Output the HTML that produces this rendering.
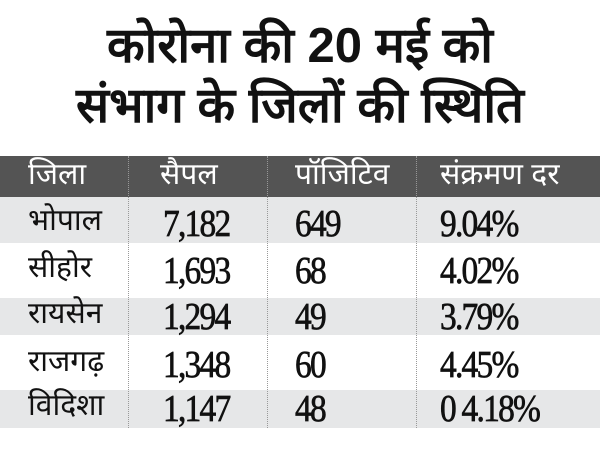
<!DOCTYPE html>
<html><head><meta charset="utf-8"><style>
body{margin:0;width:600px;height:450px;background:#fff;position:relative;overflow:hidden;font-family:"Liberation Sans",sans-serif}
.t{position:absolute;left:0;width:600px;text-align:center;font-weight:bold;font-size:49px;color:#111;line-height:60px}
.band{position:absolute;left:0;width:600px}
.v{position:absolute;top:156px;height:272px;border-left:1px dotted #999}
.c{position:absolute;white-space:nowrap;line-height:1}
.h{color:#fff;font-size:30px}
.n{font-family:"Liberation Serif",serif;font-size:38px;color:#111;letter-spacing:-2px;transform:scaleX(0.88);transform-origin:left;-webkit-text-stroke:0.7px #111}
.d{font-size:30px;color:#111}
</style></head><body>
<div class="t" style="top:16px">कोरोना की 20 मई को</div>
<div class="t" style="top:76px">संभाग के जिलों की स्थिति</div>
<div class="band" style="top:156px;height:41px;background:#545454"></div>
<div class="band" style="top:197px;height:46px;background:#e6e7e8"></div>
<div class="band" style="top:298px;height:37px;background:#e6e7e8"></div>
<div class="band" style="top:390px;height:38px;background:#e6e7e8"></div>
<div class="v" style="left:128px"></div>
<div class="v" style="left:267px"></div>
<div class="v" style="left:416px"></div>

<div class="c h" style="left:28px;top:160px">जिला</div>
<div class="c h" style="left:160px;top:160px">सैपल</div>
<div class="c h" style="left:295px;top:160px">पॉजिटिव</div>
<div class="c h" style="left:440px;top:160px">संक्रमण दर</div>

<div class="c d" style="left:28px;top:206px">भोपाल</div>
<div class="c n" style="left:163px;top:205px">7,182</div>
<div class="c n" style="left:295px;top:205px">649</div>
<div class="c n" style="left:440px;top:205px">9.04%</div>

<div class="c d" style="left:28px;top:253px">सीहोर</div>
<div class="c n" style="left:163px;top:252px">1,693</div>
<div class="c n" style="left:295px;top:252px">68</div>
<div class="c n" style="left:440px;top:252px">4.02%</div>

<div class="c d" style="left:28px;top:299px">रायसेन</div>
<div class="c n" style="left:163px;top:298px">1,294</div>
<div class="c n" style="left:295px;top:298px">49</div>
<div class="c n" style="left:440px;top:298px">3.79%</div>

<div class="c d" style="left:28px;top:347px">राजगढ़</div>
<div class="c n" style="left:163px;top:346px">1,348</div>
<div class="c n" style="left:295px;top:346px">60</div>
<div class="c n" style="left:440px;top:346px">4.45%</div>

<div class="c d" style="left:28px;top:391px">विदिशा</div>
<div class="c n" style="left:163px;top:390px">1,147</div>
<div class="c n" style="left:295px;top:390px">48</div>
<div class="c n" style="left:440px;top:390px">0 4.18%</div>
</body></html>
